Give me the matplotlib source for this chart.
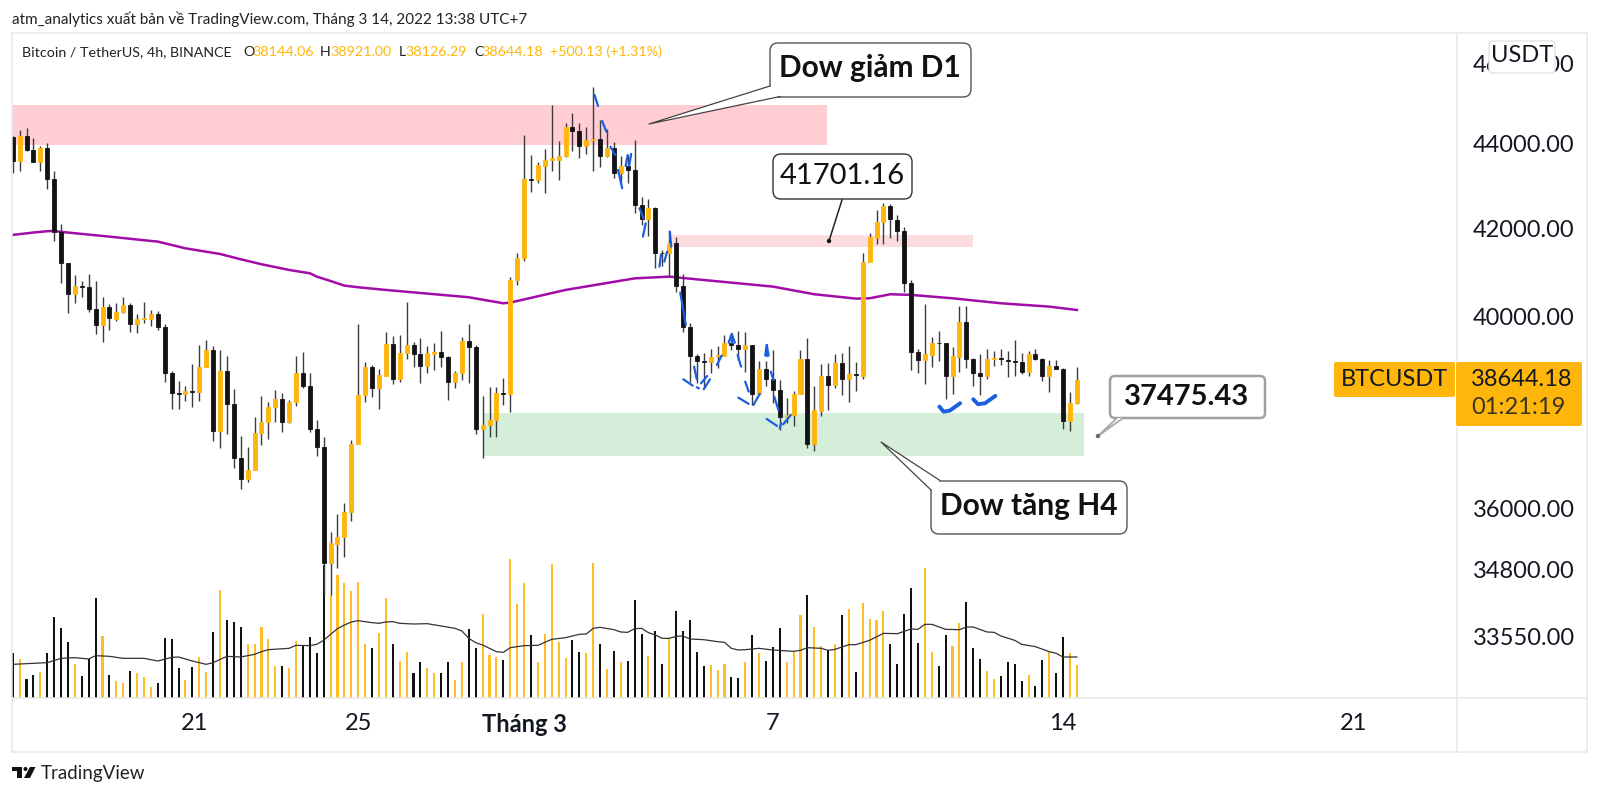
import matplotlib
matplotlib.use("Agg")
import matplotlib.pyplot as plt
import numpy as np
from matplotlib.patches import FancyBboxPatch, Polygon, Circle
from matplotlib.ticker import NullLocator

plt.rcParams['font.family'] = ['Lato', 'Noto Sans', 'DejaVu Sans']

# 4h candles
opens = [44180,43580,44200,43860,43570,43910,43150,41910,41200,40510,
         40690,40670,40170,39820,40210,39960,40110,40260,39840,39960,
         39960,40070,39790,38790,38350,38340,38400,38380,38920,39280,
         37570,38830,38130,37000,36580,36770,37520,37760,38060,38230,
         37750,38160,38780,38510,37610,37240,34930,35300,35440,35920,
         37300,38320,38920,38470,38730,39410,38660,39220,39390,39190,
         38940,39200,39240,39120,38600,38780,39480,39350,37610,37690,
         37790,38350,38340,40820,41320,43160,43140,43480,43620,43620,
         43700,44420,44320,43960,44090,44110,43700,43900,43310,43470,
         43380,42550,42220,42470,41440,41430,41660,40690,39770,39140,
         39040,39010,39140,39150,39430,39390,39290,39390,38340,38870,
         38660,38420,37850,37890,38340,39080,37300,37990,38710,38530,
         38990,38650,38760,38720,41220,41770,42140,42520,42200,41950,
         40760,39240,39060,39170,39430,39420,38710,39120,39900,39080,
         38780,38730,39080,39100,39070,39040,39020,38800,39190,39090,
         38720,38940,38860,37770,38144]
highs = [44200,44330,44380,44140,43950,44020,43340,42100,41200,40940,
         40790,40960,40790,40440,40290,40300,40440,40300,40070,40340,
         40150,40140,39840,38830,38610,38510,38970,39390,39500,39370,
         39280,39140,38440,37470,37240,37860,38300,38160,38420,38350,
         38210,39140,39240,38780,37790,37430,35540,35890,36100,37380,
         39840,39010,38960,38880,39680,39580,39610,40340,39460,39530,
         39370,39420,39690,39140,38830,39560,39850,39390,38300,38480,
         38480,38670,40900,41440,44220,43740,43560,43880,44960,44070,
         44500,44750,44520,44420,45410,44590,44360,44060,43700,43740,
         44100,42740,42690,42510,41500,41950,41800,40950,39860,39190,
         39210,39290,39370,39610,39630,39690,39660,39390,39050,39050,
         39280,38630,38250,38400,39280,39550,38510,38970,38990,39190,
         39220,39370,39030,41440,41890,42430,42590,42570,42310,42030,
         40820,39290,40290,39570,39690,39420,39350,40240,40240,39100,
         39190,39310,39260,39290,39260,39500,39210,39260,39310,39100,
         39060,39060,38890,38370,38921]
lows = [43310,43360,43820,43570,43360,42920,41700,40760,40080,40320,
        40450,40120,39630,39460,39720,39920,40080,39660,39640,39860,
        39800,39720,38590,38020,38030,38190,38060,38190,38910,37360,
        37220,37500,36800,36380,36530,36770,37280,37390,37760,37550,
        37720,38090,38460,37550,37040,34310,34320,34830,35050,35740,
        37300,38160,38280,38030,38710,38560,38600,39080,38920,38580,
        38790,38850,38920,38210,38470,38630,38580,37500,37000,37450,
        37450,38110,37950,40700,41250,42860,43060,42820,43360,43140,
        43680,43840,43670,43750,43340,43440,43680,43180,43060,43060,
        42350,42080,41830,41090,41130,40900,40560,39680,38600,38580,
        38490,38790,38900,39140,39280,39060,38810,38110,38320,38510,
        38140,37590,37720,37660,38340,37210,37160,37880,38000,38470,
        38320,38160,38400,38660,41220,41630,41630,41790,41700,40560,
        38850,38780,38550,38920,39050,38230,38340,38810,38890,38510,
        38320,38660,38940,38960,38690,38720,38760,38710,39060,38610,
        38390,38860,37600,37570,38126]
closes = [43590,44200,43860,43570,43900,43150,41910,41200,40510,40690,
          40670,40170,39820,40210,39980,40120,40260,39850,39960,39970,
          40070,39790,38790,38350,38340,38410,38390,38920,39280,37570,
          38830,38130,37000,36580,36770,37520,37760,38060,38230,37750,
          38160,38780,38510,37610,37240,34930,35320,35440,35920,37300,
          38320,38920,38470,38740,39410,38660,39220,39390,39190,38940,
          39210,39240,39120,38600,38780,39480,39350,37610,37690,37790,
          38350,38340,40820,41320,43160,43140,43500,43620,43650,43700,
          44420,44320,43960,44100,44110,43700,43900,43310,43460,43380,
          42550,42220,42470,41440,41430,41660,40690,39770,39140,39050,
          39020,39120,39160,39420,39390,39290,39390,38340,38870,38660,
          38420,37860,37900,38340,39080,37300,38000,38710,38530,38990,
          38660,38760,38740,41220,41800,42150,42520,42210,41950,40760,
          39240,39060,39190,39440,39420,38710,39140,39900,39080,38780,
          38730,39090,39110,39080,39040,39020,38800,39190,39090,38720,
          38940,38860,37770,38140,38644]
# volume has no scale in the picture, values are relative bar heights
volumes = [135,118,56,68,77,135,243,210,168,101,
           67,118,301,185,69,51,44,81,76,63,
           33,44,180,177,89,54,94,123,79,198,
           324,234,229,213,163,163,213,177,96,96,
           91,171,159,182,135,400,310,369,344,321,
           349,161,149,194,301,161,111,138,76,109,
           89,75,76,109,54,109,207,150,251,130,
           123,114,416,283,344,189,109,191,401,168,
           121,175,138,136,406,161,87,141,109,110,
           295,191,126,201,102,179,260,201,234,138,
           96,99,85,102,63,61,108,189,136,112,
           154,209,108,141,248,308,213,156,143,163,
           250,266,79,284,238,233,261,163,101,251,
           329,165,389,138,96,189,156,224,289,151,
           118,81,57,66,107,101,51,69,36,114,
           141,76,184,134,98]

vol_ma_x = [0,3,5,7,9,11,12,14,16,19,21,23,24,26,28,29,31,33,35,36,37,40,41,43,44,45,46,47,48,49,50,
            52,53,54,55,56,58,60,62,64,65,66,67,68,70,71,72,74,76,78,80,82,83,84,85,87,88,89,90,91,92,
            93,94,95,96,97,98,100,102,103,104,105,106,108,110,113,114,115,117,118,119,120,121,122,124,
            126,128,129,130,131,132,133,135,137,138,139,141,142,143,145,146,148,150,151,152,154]
vol_ma = [101,104,106,119,121,117,127,125,119,119,111,122,123,111,101,106,125,123,131,139,145,149,158,157,161,173,191,208,219,228,232,
          226,224,228,229,224,222,223,216,209,201,179,166,159,139,137,151,157,158,176,181,191,192,209,212,205,198,197,208,209,196,
          189,179,179,185,186,177,175,169,167,149,144,145,149,144,140,143,151,149,143,146,153,160,160,173,
          194,193,200,207,206,221,221,206,205,213,213,198,197,186,173,161,154,139,134,123,123]

ma_x = [0,3,5,6,7,10,14,20,21,25,30,33,36,40,43,44,46,48,50,54,66,71,72,80,90,95,99,110,116,122,124,127,130,136,143,150,154]
ma_y = [41850,41905,41936,41943,41920,41873,41811,41711,41696,41542,41413,41292,41179,41050,40975,40899,40801,40697,40660,40600,
        40437,40303,40318,40600,40860,40899,40838,40675,40504,40407,40414,40504,40489,40414,40303,40229,40154]

# hand drawn blue strokes (candle index, price)
blue_dashes = [
    [(84.2,45206),(84.7,44932)], [(85.3,44563),(85.9,44302)], [(86.5,43935),(87.2,43735)],
    [(87.6,43376),(88.2,42940)], [(88.7,43472),(89.0,43735)], [(89.2,43472),(89.5,43760)],
    [(90.7,42469),(91.3,42235)], [(91.6,42120),(91.2,41811)], [(93.8,41391),(93.6,41126)],
    [(94.7,41467),(94.3,41240)], [(95.1,41927),(95.3,41580)], [(96.6,40542),(97.4,39825)],
    [(97.05,38649),(98.4,38515)], [(98.6,38921),(99.0,38649)], [(99.0,38480),(99.3,38459)],
    [(99.6,38565),(100.5,38721)], [(100.0,38438),(100.9,38649)], [(101.9,38957),(102.6,39158)],
    [(103.6,39438),(104.05,39628),(104.5,39438)], [(104.05,39628),(104.05,39438)],
    [(104.9,39172),(105.4,38921)], [(106.0,38600),(106.5,38389)], [(105.0,38262),(106.5,38129)],
    [(107.2,38108),(108.1,38340)], [(108.9,39158),(109.1,39387),(109.4,39158)], [(109.1,39387),(109.1,39158)],
    [(109.7,38814),(110.1,38635)], [(110.2,38284),(110.8,38002)], [(109.1,37815),(110.6,37670)],
    [(111.0,37622),(111.2,37725)], [(111.5,37704),(112.6,37897)],
]
blue_curves = [
    [(134.1,38073),(134.7,37967),(135.6,37988),(137.1,38143)],
    [(139.0,38227),(139.7,38122),(140.7,38143),(142.2,38298)],
]

# (left, right, top price, bottom price, colour)
zones = [
    (-0.1, 117.8, 44966, 43975, '#ffcdd2'),
    (95.4, 139.0, 41850, 41565, '#fcdcdf'),
    (68.0, 155.0, 37932, 37052, '#d5eeda'),
]

x_ticks = [26.3, 50, 74, 110, 152, 194]
x_labels = ['21', '25', 'Tháng 3', '7', '14', '21']
y_ticks = [46000, 44000, 42000, 40000, 36000, 34800, 33550]
y_labels = ['46000.00', '44000.00', '42000.00', '40000.00', '36000.00', '34800.00', '33550.00']

YELLOW = '#ffb60a'
BLACK = '#131316'
W, H = 1600, 794

fig = plt.figure(figsize=(W/100, H/100), dpi=100, facecolor='white')
rect = [12/W, 1-698/H, (1457-12)/W, (698-33)/H]

ax_vol = fig.add_axes(rect, zorder=1)
ax = fig.add_axes(rect, zorder=2)
ax.patch.set_visible(False)

x = np.arange(len(opens))
o = np.array(opens, float)
c = np.array(closes, float)
colors = [YELLOW if cc >= oo else BLACK for oo, cc in zip(o, c)]
vol_colors = ['#ffbe25' if cc >= oo else '#111111' for oo, cc in zip(o, c)]

# volume pane
ax_vol.bar(x, volumes, width=0.3, color=vol_colors, linewidth=0)
ax_vol.plot(vol_ma_x, vol_ma, color='#333333', lw=0.9)
ax_vol.set_xlim(-0.1, 209)
ax_vol.set_ylim(0, 1995)
ax_vol.axis('off')

# price pane
ax.set_yscale('log')
for left, right, top, bottom, col in zones:
    ax.fill_between([left, right], bottom, top, color=col, linewidth=0, zorder=1)
ax.plot(ma_x, ma_y, color='#a20ca8', lw=1.8, zorder=2)
ax.vlines(x, lows, highs, color='#3c3c40', lw=1.0, zorder=3)
ax.bar(x, np.abs(c-o), bottom=np.minimum(o, c), width=0.58, color=colors,
       edgecolor=colors, linewidth=0.6, zorder=4)
for stroke in blue_dashes:
    ax.plot(*zip(*stroke), color='#1a5fe0', lw=1.6, solid_capstyle='round', zorder=5)
for stroke in blue_curves:
    ax.plot(*zip(*stroke), color='#1a5fe0', lw=2.8, solid_capstyle='round', zorder=5)

ax.set_xlim(-0.1, 209)
ax.set_ylim(32425, 46775)
ax.yaxis.tick_right()
ax.yaxis.set_minor_locator(NullLocator())
ax.set_yticks(y_ticks, y_labels)
ax.set_xticks(x_ticks, x_labels)
ax.tick_params(axis='y', length=0, pad=11.5, labelsize=17, labelcolor='#131722')
ax.tick_params(axis='x', length=0, pad=11, labelsize=17, labelcolor='#131722')
ax.get_xticklabels()[2].set_fontweight('bold')
for spine in ax.spines.values():
    spine.set_visible(False)

# overlay in pixel space for frame, tags and callouts
ov = fig.add_axes([0, 0, 1, 1], zorder=5)
ov.set_xlim(0, W)
ov.set_ylim(H, 0)
ov.axis('off')

FRAME = '#e8e8ea'
for xs, ys in [([12, 1587], [33, 33]), ([12, 1587], [698, 698]), ([12, 1587], [752, 752]),
               ([12, 12], [33, 752]), ([1457, 1457], [33, 752]), ([1587, 1587], [33, 752])]:
    ov.plot(xs, ys, color=FRAME, lw=1.1, zorder=1)


def box(l, t, r, b, ec, lw, fc='white', rad=8):
    p = FancyBboxPatch((l+rad, t+rad), r-l-2*rad, b-t-2*rad, boxstyle='round,pad=%d,rounding_size=%d' % (rad, rad),
                       fc=fc, ec=ec, lw=lw, zorder=3)
    ov.add_patch(p)


def pointer(tip, a, b, ec, lw):
    ov.add_patch(Polygon([tip, a, b], closed=True, fc='white', ec='none', zorder=4))
    ov.plot([a[0], tip[0], b[0]], [a[1], tip[1], b[1]], color=ec, lw=lw, zorder=4)


# callouts
box(770, 43, 971, 97, '#555555', 1.0)
pointer((649, 124), (770, 86), (780, 96.5), '#444444', 0.9)
ov.text(870, 68, 'Dow giảm D1', fontsize=21.5, fontweight='bold', ha='center', va='center', color='#111111', zorder=5)

box(773, 154, 912, 199, '#333333', 1.0)
ov.plot([842, 829], [200, 241], color='#222222', lw=1.1, zorder=4)
ov.add_patch(Circle((829, 241), 2.2, fc='#111111', ec='none', zorder=5))
ov.text(842.5, 176, '41701.16', fontsize=21, ha='center', va='center', color='#111111', zorder=5)

box(1110, 376, 1265, 418, '#a0a0a0', 1.8, rad=5)
pointer((1098, 436), (1117, 418), (1123, 418), '#a8a8a8', 1.3)
ov.add_patch(Circle((1098, 436), 2.2, fc='#666666', ec='none', zorder=5))
ov.text(1187, 397, '37475.43', fontsize=21, fontweight='bold', ha='center', va='center', color='#111111', zorder=5)

box(931, 481, 1127, 534, '#555555', 1.0)
pointer((881, 442), (931, 490), (940, 480.5), '#444444', 0.9)
ov.text(1029, 506, 'Dow tăng H4', fontsize=21.5, fontweight='bold', ha='center', va='center', color='#111111', zorder=5)

# price scale tags
box(1489, 41, 1555, 73, '#e4e4e6', 1.0, rad=4)
ov.text(1522, 56, 'USDT', fontsize=17, ha='center', va='center', color='#131722', zorder=5)
box(1334, 362, 1455, 397, YELLOW, 0, fc=YELLOW, rad=2)
ov.text(1394.5, 379, 'BTCUSDT', fontsize=17, ha='center', va='center', color='#131722', zorder=5)
box(1456, 362, 1582, 426, YELLOW, 0, fc=YELLOW, rad=2)
ov.text(1522, 379, '38644.18', fontsize=17, ha='center', va='center', color='#131722', zorder=5)
ov.text(1518, 407, '01:21:19', fontsize=17, ha='center', va='center', color='#3a3420', zorder=5)

# header
ov.text(12, 19, 'atm_analytics xuất bản về TradingView.com, Tháng 3 14, 2022 13:38 UTC+7',
        fontsize=11, va='center', color='#222222')
for px, s, col in [(22, 'Bitcoin / TetherUS, 4h, BINANCE', '#222222'),
                   (243, 'O', '#222222'), (252, '38144.06', YELLOW),
                   (320, 'H', '#222222'), (330, '38921.00', YELLOW),
                   (399, 'L', '#222222'), (405, '38126.29', YELLOW),
                   (474, 'C', '#222222'), (481, '38644.18', YELLOW),
                   (550, '+500.13 (+1.31%)', YELLOW)]:
    ov.text(px, 52, s, fontsize=10.3, va='center', color=col)

# TradingView logo
ov.add_patch(Polygon([(12, 767), (22, 767), (22, 778), (17, 778), (17, 771), (12, 771)], fc='#111111', ec='none'))
ov.add_patch(Circle((25.5, 769), 2, fc='#111111', ec='none'))
ov.add_patch(Polygon([(30, 767), (35.5, 767), (30, 778), (24, 778)], fc='#111111', ec='none'))
ov.text(41, 773, 'TradingView', fontsize=13.5, va='center', color='#222222')

fig.savefig('out.png', dpi=100)
